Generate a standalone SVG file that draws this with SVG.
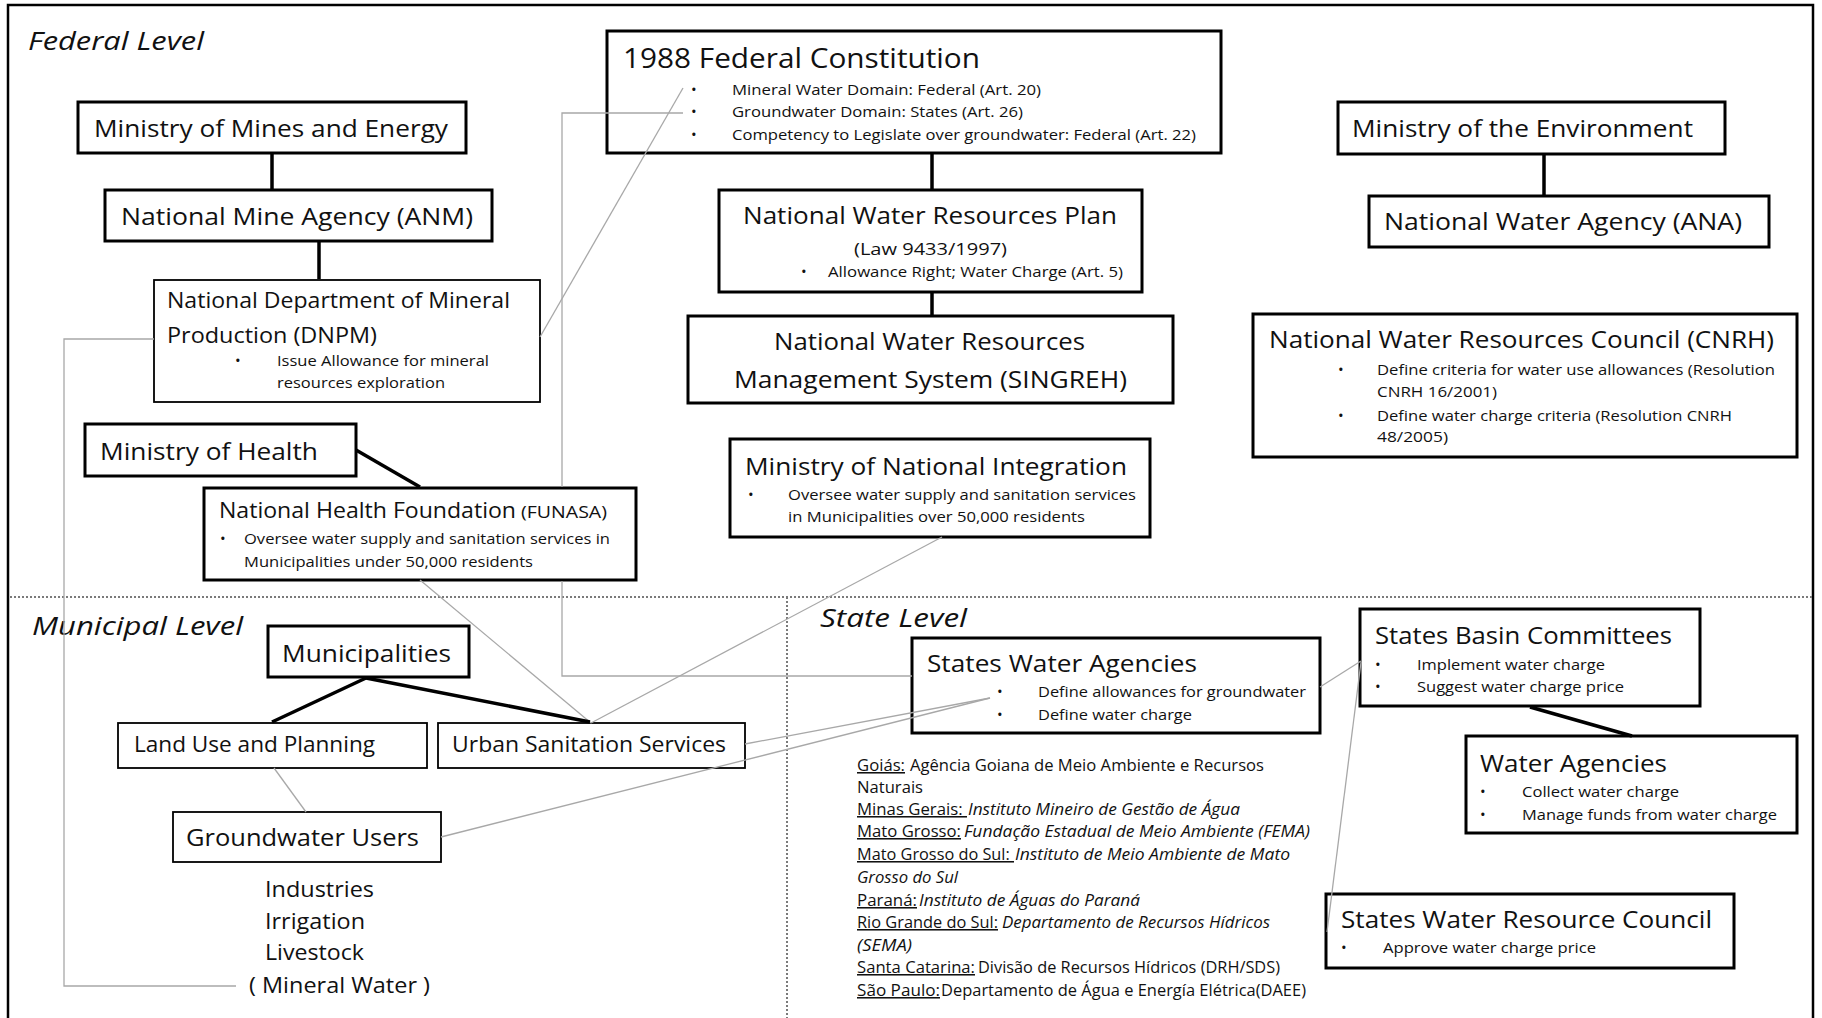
<svg xmlns="http://www.w3.org/2000/svg" width="1822" height="1018" viewBox="0 0 1822 1018">
<style>
.bg{fill:#fff}
.box{fill:#fff;stroke:#000;stroke-width:3}
.thin{stroke-width:1.8}
text{font-family:'Open Sans','Liberation Sans',sans-serif;fill:#111}
.big{font-size:24px}
.mid{font-size:22px}
.sm{font-size:15px}
.lvl{font-size:26px;font-style:italic}
.lst{font-size:15.5px}
.u{text-decoration:underline}
.i{font-style:italic}
.conn{stroke:#000;stroke-width:3.5;fill:none}
.gray{stroke:#a8a8a8;stroke-width:1.3;fill:none}
.div{stroke:#7a7a7a;stroke-width:2;stroke-dasharray:2 2;fill:none}
.frame{fill:none;stroke:#000;stroke-width:2.5}
</style>
<rect class="bg" x="0" y="0" width="1822" height="1018"/>
<rect class="frame" x="8" y="5" width="1805" height="1030"/>

<g id="dividers">
<line class="div" x1="10" y1="597" x2="1812" y2="597"/>
<line class="div" x1="787" y1="597" x2="787" y2="1018"/>
</g>

<g id="labels">
<text class="lvl" x="28" y="50" textLength="176" lengthAdjust="spacingAndGlyphs">Federal Level</text>
<text class="lvl" x="32" y="635" textLength="211" lengthAdjust="spacingAndGlyphs">Municipal Level</text>
<text class="lvl" x="820" y="627" textLength="147" lengthAdjust="spacingAndGlyphs">State Level</text>
</g>

<g id="mme">
<rect class="box" x="78" y="102" width="388" height="51"/>
<text class="big" x="94" y="137" textLength="354" lengthAdjust="spacingAndGlyphs">Ministry of Mines and Energy</text>
</g>

<g id="anm">
<rect class="box" x="105" y="190" width="387" height="51"/>
<text class="big" x="121" y="225" textLength="352" lengthAdjust="spacingAndGlyphs">National Mine Agency (ANM)</text>
</g>

<g id="dnpm">
<rect class="box thin" x="154" y="280" width="386" height="122"/>
<text class="mid" x="167" y="308" textLength="343" lengthAdjust="spacingAndGlyphs">National Department of Mineral</text>
<text class="mid" x="167" y="343" textLength="210" lengthAdjust="spacingAndGlyphs">Production (DNPM)</text>
<text class="sm" x="235" y="366">•</text>
<text class="sm" x="277" y="366" textLength="212" lengthAdjust="spacingAndGlyphs">Issue Allowance for mineral</text>
<text class="sm" x="277" y="388" textLength="168" lengthAdjust="spacingAndGlyphs">resources exploration</text>
</g>

<g id="moh">
<rect class="box" x="85" y="424" width="271" height="52"/>
<text class="big" x="100" y="460" textLength="218" lengthAdjust="spacingAndGlyphs">Ministry of Health</text>
</g>

<g id="funasa">
<rect class="box" x="204" y="488" width="432" height="92"/>
<text class="mid" x="219" y="518"><tspan textLength="297" lengthAdjust="spacingAndGlyphs">National Health Foundation</tspan><tspan x="521" font-size="17" textLength="86" lengthAdjust="spacingAndGlyphs">(FUNASA)</tspan></text>
<text class="sm" x="220" y="544">•</text>
<text class="sm" x="244" y="544" textLength="366" lengthAdjust="spacingAndGlyphs">Oversee water supply and sanitation services in</text>
<text class="sm" x="244" y="567" textLength="289" lengthAdjust="spacingAndGlyphs">Municipalities under 50,000 residents</text>
</g>

<g id="constitution">
<rect class="box" x="607" y="31" width="614" height="122"/>
<text x="623" y="68" font-size="27" textLength="357" lengthAdjust="spacingAndGlyphs">1988 Federal Constitution</text>
<text class="sm" x="691" y="95">•</text>
<text class="sm" x="732" y="95" textLength="309" lengthAdjust="spacingAndGlyphs">Mineral Water Domain: Federal (Art. 20)</text>
<text class="sm" x="691" y="117">•</text>
<text class="sm" x="732" y="117" textLength="291" lengthAdjust="spacingAndGlyphs">Groundwater Domain: States (Art. 26)</text>
<text class="sm" x="691" y="140">•</text>
<text class="sm" x="732" y="140" textLength="464" lengthAdjust="spacingAndGlyphs">Competency to Legislate over groundwater: Federal (Art. 22)</text>
</g>

<g id="plan">
<rect class="box" x="719" y="190" width="423" height="102"/>
<text class="big" x="743" y="224" textLength="374" lengthAdjust="spacingAndGlyphs">National Water Resources Plan</text>
<text x="854" y="255" font-size="17" textLength="153" lengthAdjust="spacingAndGlyphs">(Law 9433/1997)</text>
<text class="sm" x="801" y="277">•</text>
<text class="sm" x="828" y="277" textLength="295" lengthAdjust="spacingAndGlyphs">Allowance Right; Water Charge (Art. 5)</text>
</g>

<g id="singreh">
<rect class="box" x="688" y="316" width="485" height="87"/>
<text class="big" x="774" y="350" textLength="311" lengthAdjust="spacingAndGlyphs">National Water Resources</text>
<text class="big" x="734" y="388" textLength="393" lengthAdjust="spacingAndGlyphs">Management  System (SINGREH)</text>
</g>

<g id="mni">
<rect class="box" x="730" y="439" width="420" height="98"/>
<text class="big" x="745" y="475" textLength="382" lengthAdjust="spacingAndGlyphs">Ministry of National Integration</text>
<text class="sm" x="748" y="500">•</text>
<text class="sm" x="788" y="500" textLength="348" lengthAdjust="spacingAndGlyphs">Oversee water supply and sanitation services</text>
<text class="sm" x="788" y="522" textLength="297" lengthAdjust="spacingAndGlyphs">in Municipalities over 50,000 residents</text>
</g>

<g id="moe">
<rect class="box" x="1338" y="102" width="387" height="52"/>
<text class="big" x="1352" y="137" textLength="341" lengthAdjust="spacingAndGlyphs">Ministry of the Environment</text>
</g>

<g id="ana">
<rect class="box" x="1369" y="196" width="400" height="51"/>
<text class="big" x="1384" y="230" textLength="358" lengthAdjust="spacingAndGlyphs">National Water Agency (ANA)</text>
</g>

<g id="cnrh">
<rect class="box" x="1253" y="314" width="544" height="143"/>
<text class="big" x="1269" y="348" textLength="505" lengthAdjust="spacingAndGlyphs">National Water Resources  Council (CNRH)</text>
<text class="sm" x="1338" y="375">•</text>
<text class="sm" x="1377" y="375" textLength="398" lengthAdjust="spacingAndGlyphs">Define criteria for water use allowances (Resolution</text>
<text class="sm" x="1377" y="397" textLength="120" lengthAdjust="spacingAndGlyphs">CNRH 16/2001)</text>
<text class="sm" x="1338" y="421">•</text>
<text class="sm" x="1377" y="421" textLength="355" lengthAdjust="spacingAndGlyphs">Define water charge criteria (Resolution CNRH</text>
<text class="sm" x="1377" y="442" textLength="71" lengthAdjust="spacingAndGlyphs">48/2005)</text>
</g>

<g id="municipalities">
<rect class="box" x="268" y="626" width="201" height="51"/>
<text class="big" x="282" y="662" textLength="169" lengthAdjust="spacingAndGlyphs">Municipalities</text>
</g>

<g id="landuse">
<rect class="box thin" x="118" y="723" width="309" height="45"/>
<text class="mid" x="134" y="752" textLength="241" lengthAdjust="spacingAndGlyphs">Land Use and Planning</text>
</g>

<g id="urban">
<rect class="box thin" x="438" y="723" width="307" height="45"/>
<text class="mid" x="452" y="752" textLength="274" lengthAdjust="spacingAndGlyphs">Urban Sanitation Services</text>
</g>

<g id="gwusers">
<rect class="box thin" x="173" y="812" width="268" height="50"/>
<text class="big" x="186" y="846" textLength="233" lengthAdjust="spacingAndGlyphs">Groundwater  Users</text>
</g>

<g id="users-list">
<text class="mid" x="265" y="897" textLength="109" lengthAdjust="spacingAndGlyphs">Industries</text>
<text class="mid" x="265" y="929" textLength="100" lengthAdjust="spacingAndGlyphs">Irrigation</text>
<text class="mid" x="265" y="960" textLength="99" lengthAdjust="spacingAndGlyphs">Livestock</text>
<text class="mid" x="249" y="993" textLength="181" lengthAdjust="spacingAndGlyphs">( Mineral Water )</text>
</g>

<g id="swa">
<rect class="box" x="912" y="638" width="408" height="95"/>
<text class="big" x="927" y="672" textLength="270" lengthAdjust="spacingAndGlyphs">States Water  Agencies</text>
<text class="sm" x="997" y="697">•</text>
<text class="sm" x="1038" y="697" textLength="268" lengthAdjust="spacingAndGlyphs">Define allowances for groundwater</text>
<text class="sm" x="997" y="720">•</text>
<text class="sm" x="1038" y="720" textLength="154" lengthAdjust="spacingAndGlyphs">Define water  charge</text>
</g>

<g id="state-list">
<text class="lst" x="857" y="771"><tspan class="u" textLength="48" lengthAdjust="spacingAndGlyphs">Goiás:</tspan><tspan x="910" textLength="354" lengthAdjust="spacingAndGlyphs">Agência Goiana de Meio Ambiente  e Recursos</tspan></text>
<text class="lst" x="857" y="793" textLength="66" lengthAdjust="spacingAndGlyphs">Naturais</text>
<text class="lst" x="857" y="815"><tspan class="u" textLength="110" lengthAdjust="spacingAndGlyphs">Minas Gerais: </tspan><tspan class="i" x="968" textLength="272" lengthAdjust="spacingAndGlyphs">Instituto Mineiro de Gestão de Água</tspan></text>
<text class="lst" x="857" y="837"><tspan class="u" textLength="104" lengthAdjust="spacingAndGlyphs">Mato Grosso:</tspan><tspan class="i" x="964" textLength="346" lengthAdjust="spacingAndGlyphs">Fundação Estadual de Meio Ambiente (FEMA)</tspan></text>
<text class="lst" x="857" y="860"><tspan class="u" textLength="157" lengthAdjust="spacingAndGlyphs">Mato Grosso do Sul: </tspan><tspan class="i" x="1015" textLength="275" lengthAdjust="spacingAndGlyphs">Instituto  de Meio Ambiente de Mato</tspan></text>
<text class="lst i" x="857" y="883" textLength="101" lengthAdjust="spacingAndGlyphs">Grosso  do Sul</text>
<text class="lst" x="857" y="906"><tspan class="u" textLength="60" lengthAdjust="spacingAndGlyphs">Paraná:</tspan><tspan class="i" x="919" textLength="221" lengthAdjust="spacingAndGlyphs">Instituto de Águas do Paraná</tspan></text>
<text class="lst" x="857" y="928"><tspan class="u" textLength="141" lengthAdjust="spacingAndGlyphs">Rio Grande do Sul:</tspan><tspan class="i" x="1002" textLength="268" lengthAdjust="spacingAndGlyphs">Departamento  de Recursos  Hídricos</tspan></text>
<text class="lst i" x="857" y="951" textLength="55" lengthAdjust="spacingAndGlyphs">(SEMA)</text>
<text class="lst" x="857" y="973"><tspan class="u" textLength="118" lengthAdjust="spacingAndGlyphs">Santa Catarina:</tspan><tspan x="978" textLength="302" lengthAdjust="spacingAndGlyphs">Divisão de Recursos Hídricos (DRH/SDS)</tspan></text>
<text class="lst" x="857" y="996"><tspan class="u" textLength="83" lengthAdjust="spacingAndGlyphs">São Paulo:</tspan><tspan x="941" textLength="365" lengthAdjust="spacingAndGlyphs">Departamento  de Água  e Energía  Elétrica(DAEE)</tspan></text>
</g>

<g id="sbc">
<rect class="box" x="1360" y="609" width="340" height="97"/>
<text class="big" x="1375" y="644" textLength="297" lengthAdjust="spacingAndGlyphs">States Basin Committees</text>
<text class="sm" x="1375" y="670">•</text>
<text class="sm" x="1417" y="670" textLength="188" lengthAdjust="spacingAndGlyphs">Implement water charge</text>
<text class="sm" x="1375" y="692">•</text>
<text class="sm" x="1417" y="692" textLength="207" lengthAdjust="spacingAndGlyphs">Suggest water charge price</text>
</g>

<g id="wa">
<rect class="box" x="1466" y="736" width="331" height="97"/>
<text class="big" x="1480" y="772" textLength="187" lengthAdjust="spacingAndGlyphs">Water Agencies</text>
<text class="sm" x="1480" y="797">•</text>
<text class="sm" x="1522" y="797" textLength="157" lengthAdjust="spacingAndGlyphs">Collect water charge</text>
<text class="sm" x="1480" y="820">•</text>
<text class="sm" x="1522" y="820" textLength="255" lengthAdjust="spacingAndGlyphs">Manage funds from water charge</text>
</g>

<g id="swrc">
<rect class="box" x="1326" y="894" width="408" height="74"/>
<text class="big" x="1341" y="928" textLength="371" lengthAdjust="spacingAndGlyphs">States Water Resource Council</text>
<text class="sm" x="1341" y="953">•</text>
<text class="sm" x="1383" y="953" textLength="213" lengthAdjust="spacingAndGlyphs">Approve water charge price</text>
</g>

<g id="connectors">
<line class="gray" x1="683" y1="88" x2="540" y2="337"/>
<polyline class="gray" points="154,339 64,339 64,986 236,986"/>
<polyline class="gray" points="683,113 562,113 562,487"/>
<polyline class="gray" points="562,581 562,676 912,676"/>
<line class="gray" x1="274" y1="768" x2="306" y2="812"/>
<line class="gray" x1="420" y1="580" x2="591" y2="723"/>
<line class="gray" x1="942" y1="537" x2="591" y2="723"/>
<line class="gray" x1="745" y1="744" x2="990" y2="698"/>
<line class="gray" x1="441" y1="837" x2="990" y2="698"/>
<line class="gray" x1="1320" y1="687" x2="1361" y2="661"/>
<line class="gray" x1="1361" y1="662" x2="1327" y2="932"/>
<line class="conn" x1="272" y1="154" x2="272" y2="189"/>
<line class="conn" x1="319" y1="242" x2="319" y2="279"/>
<line class="conn" x1="356" y1="450" x2="420" y2="487"/>
<line class="conn" x1="932" y1="154" x2="932" y2="189"/>
<line class="conn" x1="932" y1="293" x2="932" y2="315"/>
<line class="conn" x1="1544" y1="155" x2="1544" y2="195"/>
<line class="conn" x1="366" y1="678" x2="272" y2="722"/>
<line class="conn" x1="366" y1="678" x2="590" y2="722"/>
<line class="conn" x1="1530" y1="707" x2="1632" y2="736"/>
</g>
</svg>
